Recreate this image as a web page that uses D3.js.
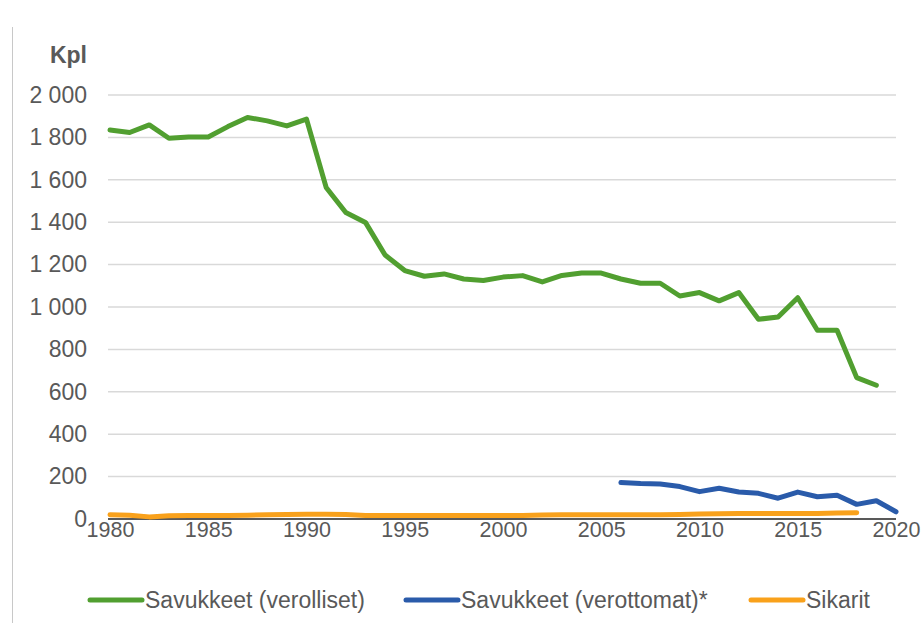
<!DOCTYPE html>
<html><head><meta charset="utf-8">
<script src="https://cdn.jsdelivr.net/npm/d3@7"></script>
<style>
html,body{margin:0;padding:0;background:#fff;}
svg{display:block;font-family:"Liberation Sans",Arial,sans-serif;}
</style></head>
<body><svg id="c" width="924" height="623"></svg>
<script>
const years = d3.range(1980, 2021);
const verolliset = [1835,1823,1859,1796,1802,1802,1851,1894,1878,1854,1886,1564,1446,1399,1245,1172,1145,1156,1132,1125,1141,1148,1118,1149,1160,1160,1132,1112,1112,1052,1068,1029,1068,942,953,1044,890,890,667,631,null];
const verottomatYears = d3.range(2006, 2021);
const verottomat = [172,167,165,153,129,145,127,121,98,127,105,112,69,86,34];
const sikaritYears = d3.range(1980, 2019);
const sikarit = [20,18,10,15,16,17,17,18,20,21,22,22,21,17,16,16,16,16,16,16,16,16,19,20,20,20,20,20,20,21,24,25,26,26,26,26,26,28,30];
const yTicks = [0,200,400,600,800,1000,1200,1400,1600,1800,2000];
const xTicks = [1980,1985,1990,1995,2000,2005,2010,2015,2020];
const seriesNames = ["Savukkeet (verolliset)","Savukkeet (verottomat)*","Sikarit"];
const colors = ["#519F30","#2A5BAA","#F9A11B"];

const svg = d3.select("#c");
const x = d3.scaleLinear().domain([1980,2020]).range([110,896]);
const y = d3.scaleLinear().domain([0,2000]).range([519,95]);
const fmt = d3.formatLocale({decimal:",",thousands:"\u00a0",grouping:[3],currency:["","€"]}).format(",d");
const textCol = "#595959";
const fs = 22.5;

// left border line
svg.append("line").attr("x1",12.5).attr("x2",12.5).attr("y1",27).attr("y2",623).attr("stroke","#c8c8c8").attr("stroke-width",1);

// gridlines
svg.append("g").selectAll("line").data(yTicks.filter(d=>d>0)).join("line")
  .attr("x1",108).attr("x2",896).attr("y1",d=>y(d)).attr("y2",d=>y(d))
  .attr("stroke","#d9d9d9").attr("stroke-width",1.5);

// y axis labels
const yAxis = d3.axisLeft(y).tickValues(yTicks).tickFormat(fmt).tickSize(0).tickPadding(0);
const gy = svg.append("g").attr("transform","translate(87,0)").call(yAxis);
gy.select(".domain").remove();
gy.selectAll("text").attr("font-size",fs+0.5).attr("fill",textCol).attr("font-family","Liberation Sans, Arial, sans-serif");

// x axis
const xAxis = d3.axisBottom(x).tickValues(xTicks).tickFormat(d3.format("d")).tickSize(0).tickPadding(3);
const gx = svg.append("g").attr("transform","translate(0,519)").call(xAxis);
gx.select(".domain").remove();
gx.selectAll("text").attr("font-size",21.5).attr("fill",textCol).attr("font-family","Liberation Sans, Arial, sans-serif");

// unit label
svg.append("text").attr("x",87).attr("y",63).attr("text-anchor","end").attr("font-size",fs+0.5).attr("font-weight","bold").attr("fill",textCol).text("Kpl");

const line = d3.line().defined(d=>d[1]!=null).x(d=>x(d[0])).y(d=>y(d[1]));

// baseline
svg.append("line").attr("x1",108).attr("x2",896).attr("y1",y(0)).attr("y2",y(0)).attr("stroke","#595959").attr("stroke-width",2);

const data = [
  years.map((yr,i)=>[yr,verolliset[i]]),
  verottomatYears.map((yr,i)=>[yr,verottomat[i]]),
  sikaritYears.map((yr,i)=>[yr,sikarit[i]])
];
[2,1,0].forEach(i=>{
  svg.append("path").attr("d",line(data[i])).attr("fill","none")
    .attr("stroke",colors[i]).attr("stroke-width",5).attr("stroke-linejoin","round").attr("stroke-linecap","round");
});

// legend
const legX = [88,404,749];
const lg = svg.append("g");
seriesNames.forEach((n,i)=>{
  lg.append("line").attr("x1",legX[i]+2).attr("x2",legX[i]+54).attr("y1",600).attr("y2",600)
    .attr("stroke",colors[i]).attr("stroke-width",5).attr("stroke-linecap","round");
  lg.append("text").attr("x",legX[i]+57).attr("y",608).attr("font-size",fs+0.5).attr("fill",textCol).text(n);
});
</script></body></html>
